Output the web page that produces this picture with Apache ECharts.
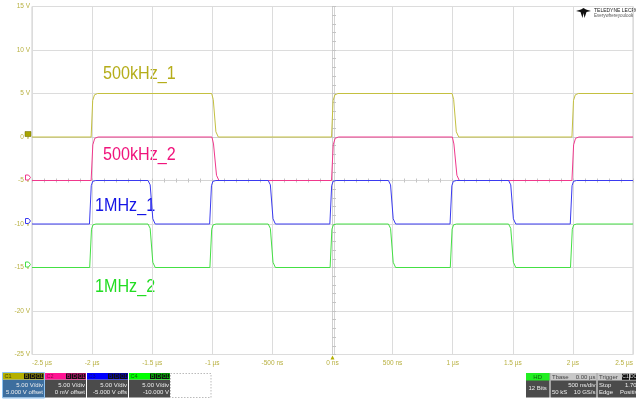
<!DOCTYPE html>
<html>
<head>
<meta charset="utf-8">
<script src="https://cdn.jsdelivr.net/npm/echarts@6/dist/echarts.min.js"></script>
<style>
html,body{margin:0;padding:0;background:#fff;}
#chart{width:636px;height:403px;}
</style>
</head>
<body>
<div id="chart"></div>
<script>
// ---- data (time in µs, amplitude in V) ----
const xTickValues = [-2.5, -2, -1.5, -1, -0.5, 0, 0.5, 1, 1.5, 2, 2.5];
const xTickLabels = ['-2.5 µs', '-2 µs', '-1.5 µs', '-1 µs', '-500 ns', '0 ns', '500 ns', '1 µs', '1.5 µs', '2 µs', '2.5 µs'];
const yTickValues = [15, 10, 5, 0, -5, -10, -15, -20, -25];
const yTickLabels = ['15 V', '10 V', '5 V', '0 V', '-5 V', '-10 V', '-15 V', '-20 V', '-25 V'];

const traceNames = ['500kHz_1', '500kHz_2', '1MHz_1', '1MHz_2'];
const channelOffsets = [0, -5, -10, -15];

const c1Trace = [[-2.5,0],[-2.008,0],[-1.995,4.2],[-1.98,4.85],[-1.955,5],[-1.005,5],[-0.992,4.3],[-0.97,0.6],[-0.95,0],[-0.008,0],[0.005,4.2],[0.02,4.85],[0.045,5],[0.995,5],[1.008,4.3],[1.03,0.6],[1.05,0],[1.992,0],[2.005,4.2],[2.02,4.85],[2.045,5],[2.5,5]];
const c2Trace = [[-2.5,-5],[-2.008,-5],[-1.994,-0.9],[-1.978,-0.15],[-1.95,0],[-1.003,0],[-0.99,-0.8],[-0.965,-4.4],[-0.945,-5],[-0.008,-5],[0.006,-0.9],[0.022,-0.15],[0.05,0],[0.997,0],[1.01,-0.8],[1.035,-4.4],[1.055,-5],[1.992,-5],[2.006,-0.9],[2.022,-0.15],[2.05,0],[2.5,0]];
const c3Trace = [[-2.5,-10],[-2.022,-10],[-2.007,-5.6],[-1.995,-5.1],[-1.97,-5],[-1.535,-5],[-1.517,-5.5],[-1.495,-9.4],[-1.475,-10],[-1.022,-10],[-1.007,-5.6],[-0.995,-5.1],[-0.97,-5],[-0.535,-5],[-0.517,-5.5],[-0.495,-9.4],[-0.475,-10],[-0.022,-10],[-0.007,-5.6],[0.005,-5.1],[0.03,-5],[0.465,-5],[0.483,-5.5],[0.505,-9.4],[0.525,-10],[0.978,-10],[0.993,-5.6],[1.005,-5.1],[1.03,-5],[1.465,-5],[1.483,-5.5],[1.505,-9.4],[1.525,-10],[1.978,-10],[1.993,-5.6],[2.005,-5.1],[2.03,-5],[2.5,-5]];
const c4Trace = [[-2.5,-15],[-2.02,-15],[-2.005,-10.6],[-1.993,-10.1],[-1.968,-10],[-1.535,-10],[-1.517,-10.5],[-1.495,-14.4],[-1.475,-15],[-1.02,-15],[-1.005,-10.6],[-0.993,-10.1],[-0.968,-10],[-0.535,-10],[-0.517,-10.5],[-0.495,-14.4],[-0.475,-15],[-0.02,-15],[-0.005,-10.6],[0.007,-10.1],[0.032,-10],[0.465,-10],[0.483,-10.5],[0.505,-14.4],[0.525,-15],[0.98,-15],[0.995,-10.6],[1.007,-10.1],[1.032,-10],[1.465,-10],[1.483,-10.5],[1.505,-14.4],[1.525,-15],[1.98,-15],[1.995,-10.6],[2.007,-10.1],[2.032,-10],[2.5,-10]];

const channelDescr = [
  ['C1', '5.00 V/div', '5.000 V offset'],
  ['C2', '5.00 V/div', '0 mV offset'],
  ['C3', '5.00 V/div', '-5.000 V offs'],
  ['C4', '5.00 V/div', '-10.000 V']
];

// ---- styles ----
const lineColors = ['#c4c040', '#f0388c', '#3a3af0', '#44e044'];
const labelColors = ['#b5ad1a', '#f0147c', '#1414e6', '#22dd22'];
const titleColors = ['#b4b000', '#ff1493', '#0000ff', '#00ff00'];
const titleTextColors = ['#4a4800', '#8a0a4a', '#0a0a80', '#106010'];
const axisTextColor = '#b8b040';
const labelFont = "'Liberation Sans', Arial, sans-serif";
const smallFont = "'Liberation Sans', Arial, sans-serif";

const traces = [c1Trace, c2Trace, c3Trace, c4Trace];
const labelPos = [[103, 73], [103, 154], [95, 205], [95, 285.5]];

const chart = echarts.init(document.getElementById('chart'), null, {renderer: 'canvas'});

function fmtX(v) {
  const i = xTickValues.findIndex(t => Math.abs(t - v) < 1e-6);
  return i >= 0 ? xTickLabels[i] : '';
}
function fmtY(v) {
  const i = yTickValues.findIndex(t => Math.abs(t - v) < 1e-6);
  return i >= 0 ? yTickLabels[i] : '';
}

const pennant = 'path://M0,0 L6,0 L10,4 L6,8 L0,8 Z';

const series = traces.map((d, i) => ({
  name: traceNames[i],
  type: 'line',
  data: d,
  showSymbol: false,
  symbol: 'none',
  silent: true,
  lineStyle: {color: lineColors[i], width: 1},
  z: 5 + i,
  markPoint: {
    silent: true,
    animation: false,
    data: [{
      coord: [-2.5, channelOffsets[i]],
      symbol: i === 0 ? 'rect' : pennant,
      symbolSize: i === 0 ? [6, 5] : [5, 5],
      symbolOffset: [-4, -3],
      itemStyle: i === 0 ? {color: '#a8a400', borderColor: '#6a6800', borderWidth: 0.5}
                         : {color: '#ffffff', borderColor: lineColors[i], borderWidth: 1},
      label: {show: false}
    }].concat(i === 0 ? [{
      coord: [0, -25],
      symbol: 'triangle',
      symbolSize: [4, 4],
      symbolOffset: [0, 3],
      itemStyle: {color: '#b4b000'},
      label: {show: false}
    }] : [])
  }
}));

// graphic elements: trace labels, descriptor boxes, logo
const graphic = [];
traceNames.forEach((n, i) => {
  graphic.push({
    type: 'text', x: labelPos[i][0], y: labelPos[i][1] + 1, scaleX: 0.85, silent: true,
    style: {text: n, fill: labelColors[i], font: "19px " + labelFont, verticalAlign: 'middle'}
  });
});

function box(x, y, w, h, fill, stroke, dash) {
  return {type: 'rect', shape: {x: x, y: y, width: w, height: h}, silent: true,
    style: {fill: fill, stroke: stroke || null, lineWidth: stroke ? 1 : 0, lineDash: dash || null}};
}
function txt(x, y, s, color, align, size) {
  return {type: 'text', x: x, y: y, silent: true,
    style: {text: s, fill: color, font: (size || 6) + 'px ' + smallFont, align: align || 'left', verticalAlign: 'middle'}};
}

const boxX = [3, 45, 87, 129];
channelDescr.forEach((c, i) => {
  const x = boxX[i], y = 373, w = 41, h = 24.5;
  graphic.push(box(x, y + 6.5, w, h - 6.5, i === 0 ? '#3d6e9e' : '#4b4b4b'));
  graphic.push(box(x, y, w, 6.5, titleColors[i]));
  graphic.push(txt(x + 1.5, y + 3.4, c[0], titleTextColors[i], 'left', 5.5));
  const bx = [x + 21, x + 27, x + 33];
  const bl = ['B', 'D', 'O1'];
  bx.forEach((b, k) => {
    graphic.push(box(b, y + 0.5, k === 2 ? 7.5 : 5.5, 5.5, '#111'));
    graphic.push(txt(b + (k === 2 ? 3.75 : 2.75), y + 3.4, bl[k], titleColors[i], 'center', 5));
  });
  graphic.push(txt(x + w - 1, y + 12, c[1], '#eeeeee', 'right', 6));
  graphic.push(txt(x + w - 1, y + 19.5, c[2], '#eeeeee', 'right', 6));
  if (i === 0) graphic.push(box(x - 0.5, y - 0.5, w + 1, h + 1, null, '#8ec2f0'));
});
graphic.push(box(170.5, 373.5, 40.5, 24, null, '#bbbbbb', [1.5, 1.5]));

// right status boxes
graphic.push(box(526, 373, 23.5, 24.5, '#4b4b4b'));
graphic.push(box(526, 373, 23.5, 7.5, '#22ee22'));
graphic.push(txt(537.7, 377, 'HD', '#106010', 'center', 6));
graphic.push(txt(537.7, 388.5, '12 Bits', '#eeeeee', 'center', 6));

graphic.push(box(550.5, 373, 46, 24.5, '#4b4b4b'));
graphic.push(box(550.5, 373, 46, 7.5, '#c8c8c8'));
graphic.push(txt(552, 377, 'Tbase', '#444', 'left', 6));
graphic.push(txt(595.5, 377, '0.00 µs', '#444', 'right', 6));
graphic.push(txt(595.5, 385, '500 ns/div', '#eeeeee', 'right', 6));
graphic.push(txt(552, 392.5, '50 kS', '#eeeeee', 'left', 6));
graphic.push(txt(595.5, 392.5, '10 GS/s', '#eeeeee', 'right', 6));

graphic.push(box(597.5, 373, 50, 24.5, '#4b4b4b'));
graphic.push(box(597.5, 373, 50, 7.5, '#c8c8c8'));
graphic.push(txt(599, 377, 'Trigger', '#444', 'left', 6));
graphic.push(box(622, 373.8, 7, 6, '#111'));
graphic.push(txt(625.5, 377, 'C1', '#dddddd', 'center', 5));
graphic.push(box(630, 373.8, 7, 6, '#111'));
graphic.push(txt(633.5, 377, 'DC', '#dddddd', 'center', 5));
graphic.push(txt(599, 385, 'Stop', '#eeeeee', 'left', 6));
graphic.push(txt(625, 385, '1.70 V', '#eeeeee', 'left', 6));
graphic.push(txt(599, 392.5, 'Edge', '#eeeeee', 'left', 6));
graphic.push(txt(620, 392.5, 'Positive', '#eeeeee', 'left', 6));

// logo
graphic.push({type: 'polygon', silent: true,
  shape: {points: [[576, 11], [581, 9.5], [583.5, 8], [586, 9.5], [591, 11], [586.5, 12], [584.5, 18], [583.5, 13], [582.5, 18], [580.5, 12]]},
  style: {fill: '#111'}});
graphic.push(txt(594, 10.5, 'TELEDYNE LECROY', '#222', 'left', 5));
graphic.push(txt(594, 16, 'Everywhereyoulook', '#555', 'left', 4.5));

const option = {
  backgroundColor: '#ffffff',
  animation: false,
  grid: {left: 32, right: 0, top: 6.5, bottom: 48.5, show: true, borderColor: '#cfcfcf', borderWidth: 1, containLabel: false},
  xAxis: [{
    type: 'value', min: -2.5, max: 2.5, interval: 0.5,
    axisLine: {show: true, lineStyle: {color: '#cfcfcf'}},
    axisTick: {show: false},
    splitLine: {show: true, lineStyle: {color: '#dcdcdc', width: 1}},
    axisLabel: {color: axisTextColor, fontSize: 6.5, margin: 5, fontFamily: smallFont,
      formatter: fmtX, alignMinLabel: 'left', alignMaxLabel: 'right', showMinLabel: true, showMaxLabel: true}
  }, {
    type: 'value', min: -2.5, max: 2.5, interval: 0.1, position: 'bottom', offset: -174,
    axisLine: {show: true, lineStyle: {color: '#d4d4d4'}},
    axisTick: {show: true, inside: true, length: 2, lineStyle: {color: '#c4c4c4'}},
    axisLabel: {show: false}, splitLine: {show: false}
  }, {
    type: 'value', min: -2.5, max: 2.5, interval: 0.1, position: 'bottom', offset: -174,
    axisLine: {show: false},
    axisTick: {show: true, inside: false, length: 2, lineStyle: {color: '#c4c4c4'}},
    axisLabel: {show: false}, splitLine: {show: false}
  }],
  yAxis: [{
    type: 'value', min: -25, max: 15, interval: 5,
    axisLine: {show: true, lineStyle: {color: '#cfcfcf'}},
    axisTick: {show: false},
    splitLine: {show: true, lineStyle: {color: '#dcdcdc', width: 1}},
    axisLabel: {color: axisTextColor, fontSize: 6.5, margin: 2, fontFamily: smallFont, formatter: fmtY}
  }, {
    type: 'value', min: -25, max: 15, interval: 1, position: 'left', offset: -302,
    axisLine: {show: true, lineStyle: {color: '#d4d4d4'}},
    axisTick: {show: true, inside: true, length: 2, lineStyle: {color: '#c4c4c4'}},
    axisLabel: {show: false}, splitLine: {show: false}
  }, {
    type: 'value', min: -25, max: 15, interval: 1, position: 'left', offset: -302,
    axisLine: {show: false},
    axisTick: {show: true, inside: false, length: 2, lineStyle: {color: '#c4c4c4'}},
    axisLabel: {show: false}, splitLine: {show: false}
  }],
  series: series,
  graphic: graphic
};
chart.setOption(option);
</script>
</body>
</html>
